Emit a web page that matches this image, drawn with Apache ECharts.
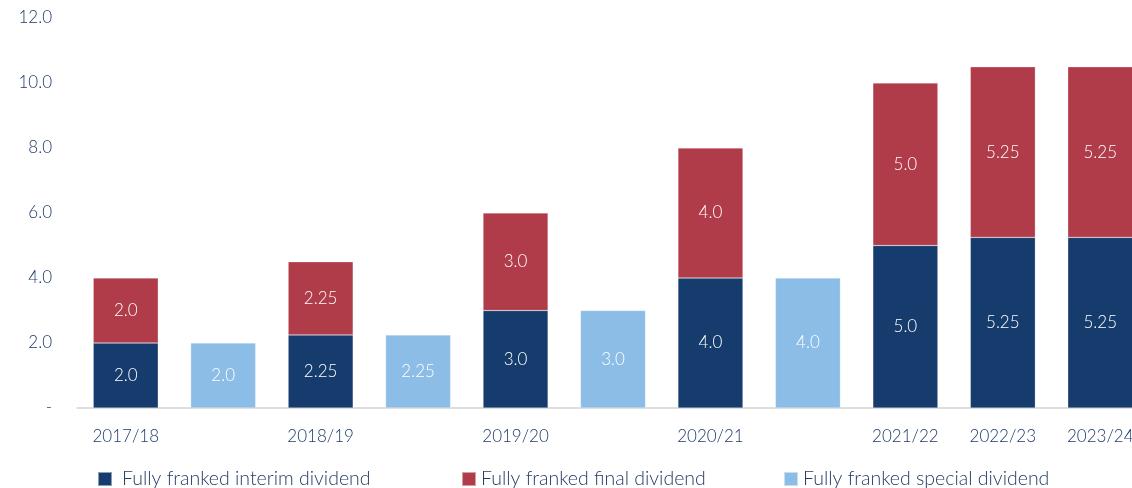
<!DOCTYPE html>
<html><head><meta charset="utf-8">
<script src="https://cdn.jsdelivr.net/npm/echarts@6/dist/echarts.min.js"></script>
<style>html,body{margin:0;padding:0;background:#fff}#c{width:1132px;height:488px}</style>
</head><body><div id="c"></div>
<script>
const categories = ['2017/18','2017/18 special','2018/19','2018/19 special','2019/20','2019/20 special','2020/21','2020/21 special','2021/22','2022/23','2023/24'];
const interim = [2.0, null, 2.25, null, 3.0, null, 4.0, null, 5.0, 5.25, 5.25];
const finalDiv = [2.0, null, 2.25, null, 3.0, null, 4.0, null, 5.0, 5.25, 5.25];
const special = [null, 2.0, null, 2.25, null, 3.0, null, 4.0, null, null, null];
const yTicks = ['-', '2.0', '4.0', '6.0', '8.0', '10.0', '12.0'];

const FONT = 'Lato';
const AXIS_TXT = '#1f3a68';
const fmt = v => { const s = String(v); return s.includes('.') && s.split('.')[1].length === 2 ? v.toFixed(2) : v.toFixed(1); };
const lbl = { show: true, position: 'inside', color: '#fff', fontFamily: FONT, fontWeight: 300, fontSize: 17, formatter: p => fmt(p.value) };
const chart = echarts.init(document.getElementById('c'));
const legendBase = { top: 469, icon: 'rect', itemWidth: 14, itemHeight: 14, itemGap: 0, padding: 0 };
const legText = pad => ({ fontFamily: FONT, fontWeight: 300, fontSize: 19.5, color: '#243b63', padding: [0,0,0,pad] });
chart.setOption({
  animation: false,
  grid: { left: 77, top: 18, width: 1072, height: 390, outerBoundsMode: 'none', containLabel: false },
  legend: [
    Object.assign({}, legendBase, { left: 97, data: ['Fully franked interim dividend'], textStyle: legText(5) }),
    Object.assign({}, legendBase, { left: 461, data: ['Fully franked final dividend'], textStyle: legText(0) }),
    Object.assign({}, legendBase, { left: 783, data: ['Fully franked special dividend'], textStyle: legText(0) })
  ],
  xAxis: {
    type: 'category', data: categories,
    axisLine: { lineStyle: { color: '#d4d4d4', width: 1.5 } },
    axisTick: { show: false },
    axisLabel: { interval: 0, margin: 20, fontFamily: FONT, fontWeight: 300, fontSize: 17, color: AXIS_TXT,
      formatter: v => v.includes('special') ? '' : v }
  },
  yAxis: {
    type: 'value', min: 0, max: 12, interval: 2,
    axisLine: { show: false }, axisTick: { show: false }, splitLine: { show: false },
    axisLabel: { margin: 25, fontFamily: FONT, fontWeight: 300, fontSize: 17, color: AXIS_TXT,
      formatter: v => yTicks[Math.round(v / 2)] }
  },
  series: [
    { name: 'Fully franked interim dividend', type: 'bar', stack: 's', data: interim, barWidth: 65,
      itemStyle: { color: '#163c6d', borderColor: 'rgba(255,255,255,0.5)', borderWidth: 0.5 }, label: lbl },
    { name: 'Fully franked final dividend', type: 'bar', stack: 's', data: finalDiv, barWidth: 65,
      itemStyle: { color: '#b03c49', borderColor: 'rgba(255,255,255,0.5)', borderWidth: 0.5 }, label: lbl },
    { name: 'Fully franked special dividend', type: 'bar', stack: 's', data: special, barWidth: 65,
      itemStyle: { color: '#8bbde6', borderColor: 'rgba(255,255,255,0.5)', borderWidth: 0.5 }, label: lbl }
  ]
});
</script></body></html>
